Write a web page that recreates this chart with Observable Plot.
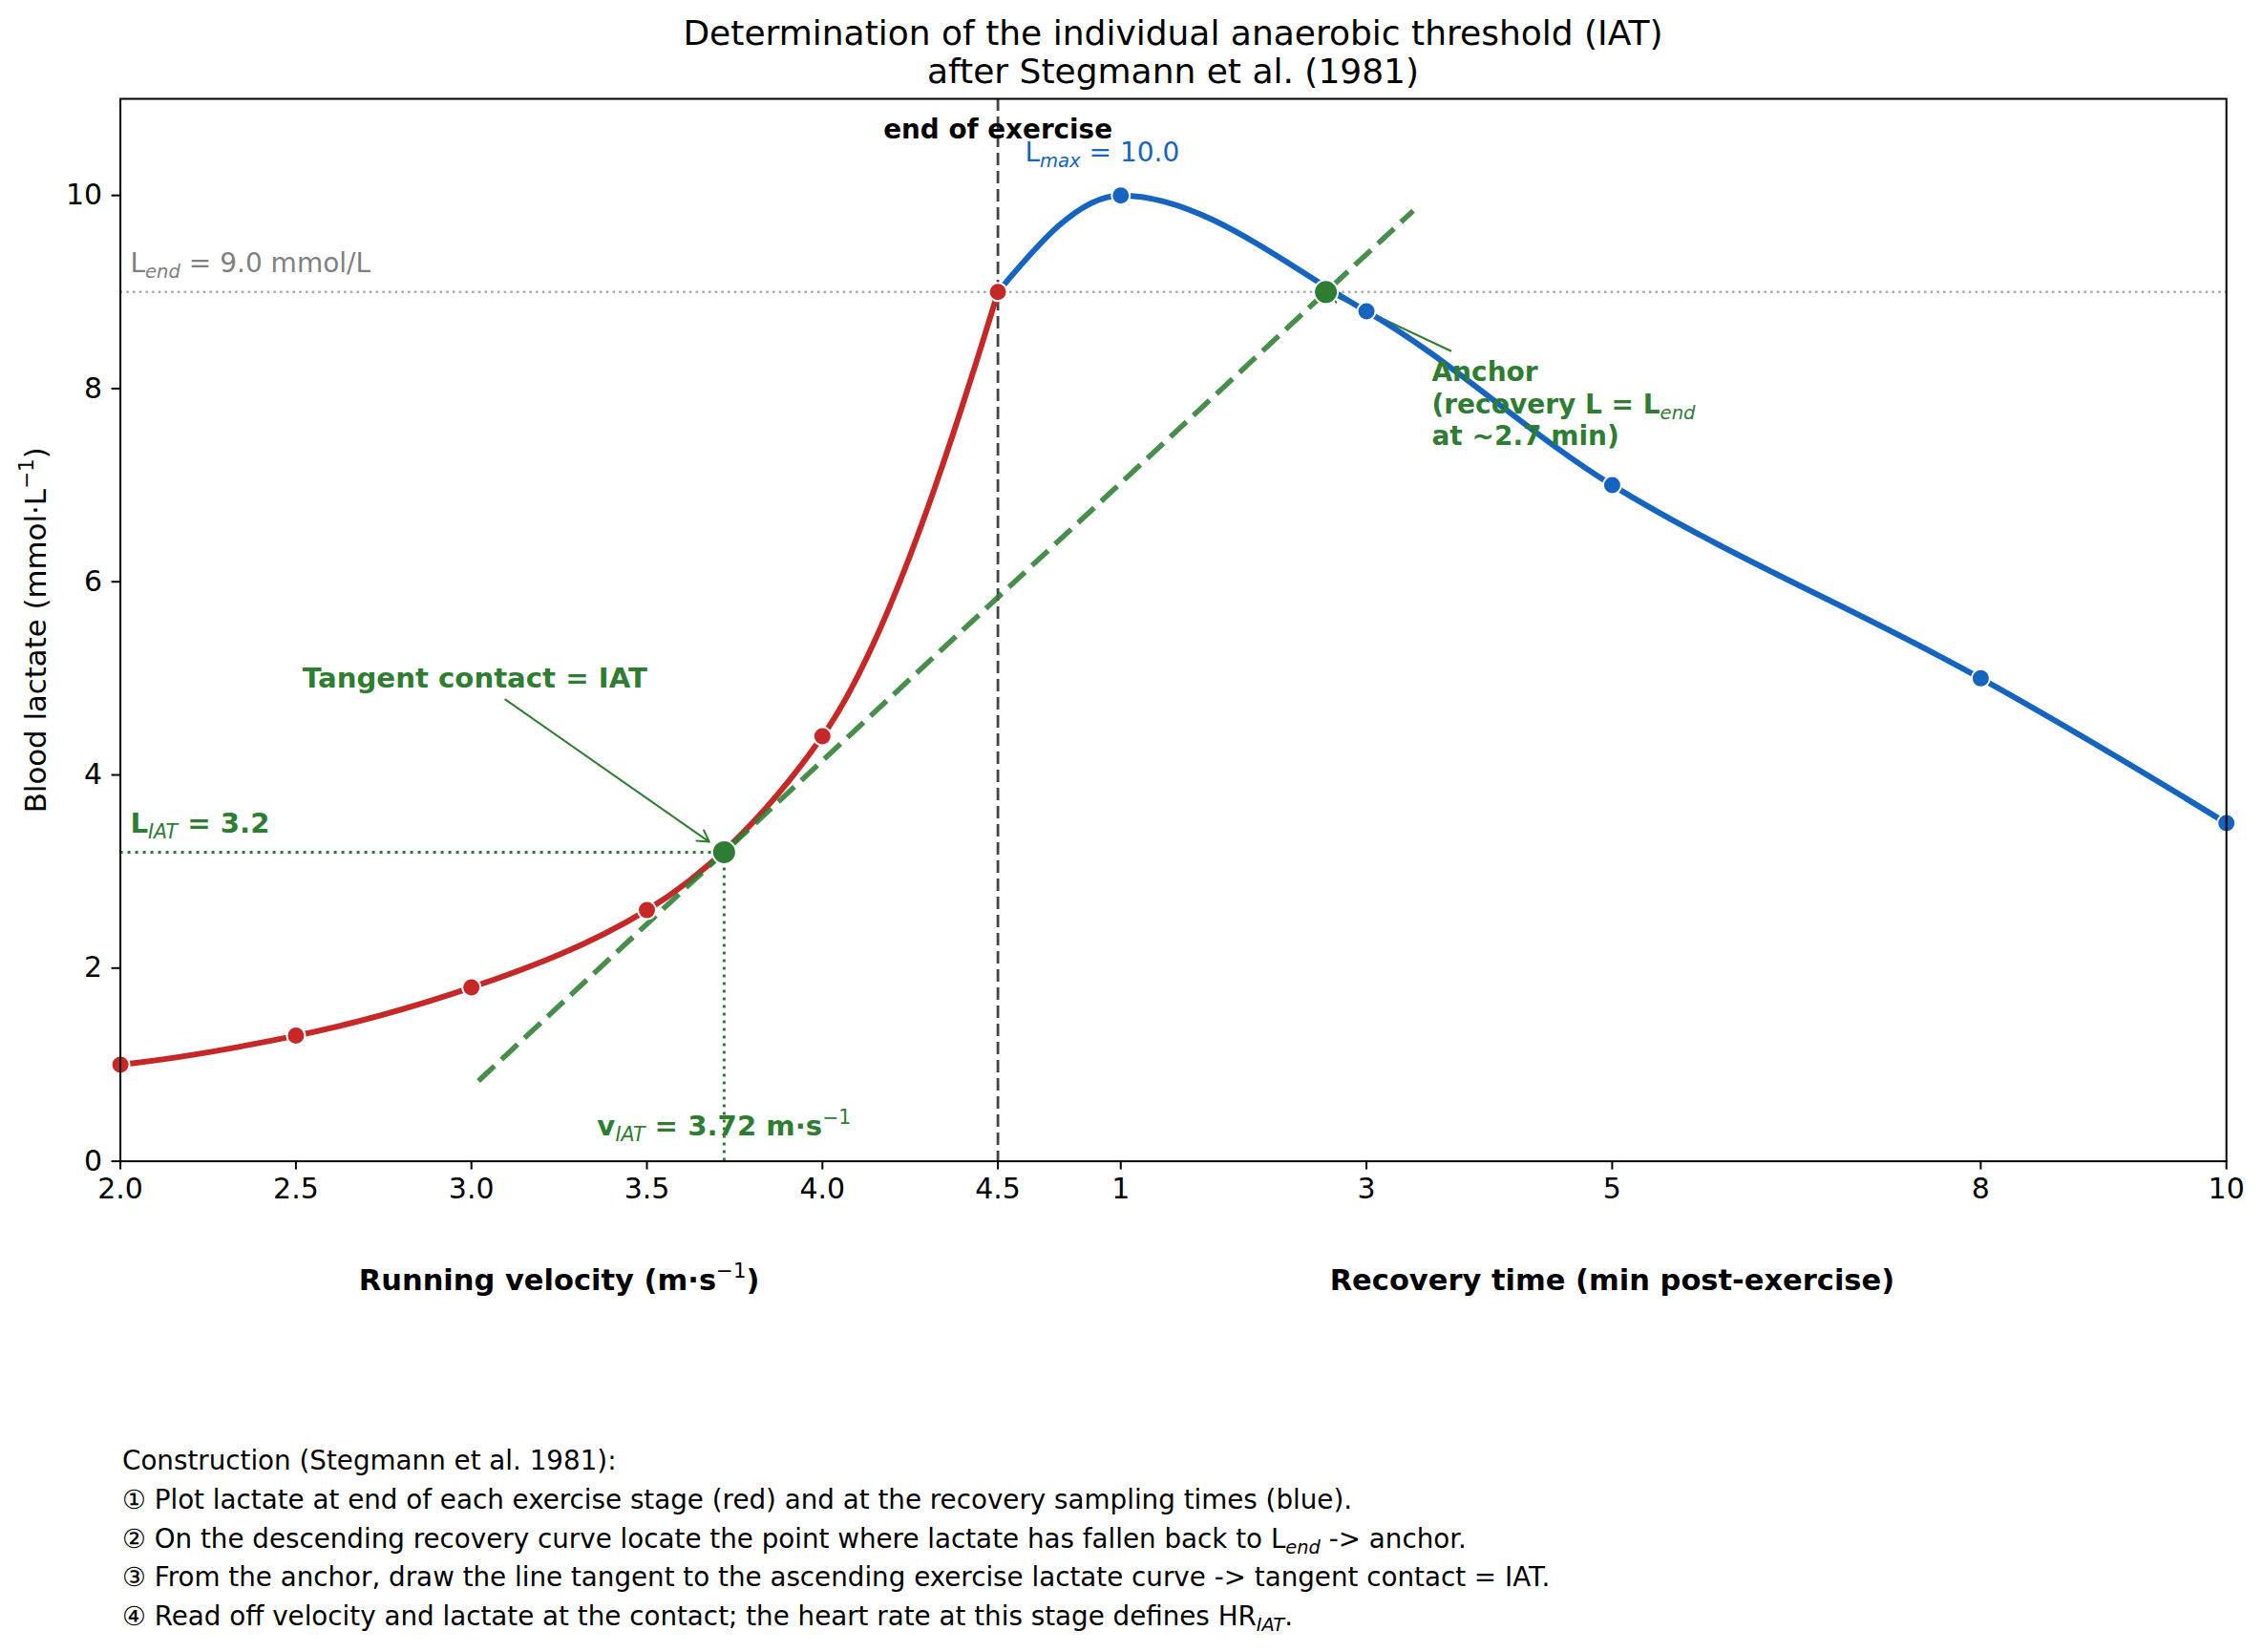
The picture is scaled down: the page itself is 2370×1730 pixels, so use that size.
<!DOCTYPE html>
<html>
<head>
<meta charset="utf-8">
<script src="https://cdn.jsdelivr.net/npm/d3@7"></script>
<script src="https://cdn.jsdelivr.net/npm/@observablehq/plot@0.6"></script>
<style>
  html, body { margin: 0; padding: 0; background: #fff; }
  body { font-family: "DejaVu Sans", sans-serif; color: #000; }
  #wrap { position: relative; width: 2370px; height: 1730px; overflow: hidden; }
  #title { position: absolute; left: 126px; width: 2205px; top: 15px; text-align: center;
           font-size: 36px; line-height: 39.5px; }
  #chart { position: absolute; left: 0; top: 95px; }
  #caption { position: absolute; left: 128px; top: 1510px; font-size: 27.75px; line-height: 40.8px; white-space: nowrap; }
  #caption sub { font-style: italic; font-size: 70%; vertical-align: -0.3em; line-height: 0; }
</style>
</head>
<body>
<div id="wrap">
  <div id="title"></div>
  <div id="chart"></div>
  <div id="caption"></div>
</div>
<script>
// ---------------- data ----------------
const velocity        = [2.0, 2.5, 3.0, 3.5, 4.0, 4.5];          // m/s, end of each stage
const lactateExercise = [1.0, 1.3, 1.8, 2.6, 4.4, 9.0];          // mmol/L
const recoveryTime    = [0, 1, 3, 5, 8, 10];                      // min post-exercise
const lactateRecovery = [9.0, 10.0, 8.8, 7.0, 5.0, 3.5];          // mmol/L

const velocityTicks      = [2.0, 2.5, 3.0, 3.5, 4.0, 4.5];
const velocityTickLabels = ["2.0", "2.5", "3.0", "3.5", "4.0", "4.5"];
const recoveryTicks      = [1, 3, 5, 8, 10];
const recoveryTickLabels = ["1", "3", "5", "8", "10"];
const lactateTicks       = [0, 2, 4, 6, 8, 10];

const lactateEnd    = 9.0;
const iatVelocity   = 3.72;
const iatLactate    = 3.2;
const anchorTime    = 2.67;   // min
const anchorLactate = 9.0;
const tangentFromVelocity = 3.02; // where the drawn tangent starts
const tangentToTime       = 3.38; // where the drawn tangent ends (min)

const titleLines = ["Determination of the individual anaerobic threshold (IAT)", "after Stegmann et al. (1981)"];
const yLabel = "Blood lactate (mmol·L^{−1})";
const xLabels = ["Running velocity (m·s^{−1})", "Recovery time (min post-exercise)"];
const labelEndExercise = "end of exercise";
const labelLmax = "L_{max} = 10.0";
const labelLend = "L_{end} = 9.0 mmol/L";
const labelTangent = "Tangent contact = IAT";
const labelLiat = "L_{IAT} = 3.2";
const labelViat = "v_{IAT} = 3.72 m·s^{−1}";
const labelAnchor = "Anchor\n(recovery L = L_{end}\nat ~2.7 min)";
const captionLines = [
  "Construction (Stegmann et al. 1981):",
  "① Plot lactate at end of each exercise stage (red) and at the recovery sampling times (blue).",
  "② On the descending recovery curve locate the point where lactate has fallen back to L_{end} -> anchor.",
  "③ From the anchor, draw the line tangent to the ascending exercise lactate curve -> tangent contact = IAT.",
  "④ Read off velocity and lactate at the contact; the heart rate at this stage defines HR_{IAT}."
];

// ---------------- composite x axis: velocity, then recovery minutes ----------------
const exerciseEnd = 4.5;          // velocity where exercise ends
const unitsPerMinute = 0.35;      // recovery minutes -> axis units
const rx = t => exerciseEnd + t * unitsPerMinute;

const exercise = velocity.map((v, i) => ({x: v, L: lactateExercise[i]}));
const recovery = recoveryTime.map((t, i) => ({t, x: rx(t), L: lactateRecovery[i]}));
const anchorX = rx(anchorTime);
const slope = (anchorLactate - iatLactate) / (anchorX - iatVelocity);
const tangentLine = [tangentFromVelocity, rx(tangentToTime)].map(x => ({x, L: iatLactate + slope * (x - iatVelocity)}));

const tickValues = [...velocityTicks, ...recoveryTicks.map(rx)];
const tickText = new Map(tickValues.map((v, i) => [v, [...velocityTickLabels, ...recoveryTickLabels][i]]));

// PCHIP (Fritsch–Butland) curve, like scipy's PchipInterpolator
function edgeSlope(h0, h1, m0, m1) {
  let d = ((2 * h0 + h1) * m0 - h0 * m1) / (h0 + h1);
  if (Math.sign(d) !== Math.sign(m0)) d = 0;
  else if (Math.sign(m0) !== Math.sign(m1) && Math.abs(d) > Math.abs(3 * m0)) d = 3 * m0;
  return d;
}
function Pchip(context) { this._context = context; }
Pchip.prototype = {
  areaStart() { this._line = 0; },
  areaEnd() { this._line = NaN; },
  lineStart() { this._xs = []; this._ys = []; },
  point(x, y) { this._xs.push(+x); this._ys.push(+y); },
  lineEnd() {
    const xs = this._xs, ys = this._ys, n = xs.length, c = this._context;
    if (n) {
      if (this._line) c.lineTo(xs[0], ys[0]); else c.moveTo(xs[0], ys[0]);
      if (n === 2) c.lineTo(xs[1], ys[1]);
      else if (n > 2) {
        const h = [], s = [];
        for (let i = 0; i < n - 1; i++) { h[i] = xs[i + 1] - xs[i]; s[i] = (ys[i + 1] - ys[i]) / h[i]; }
        const m = new Array(n);
        for (let i = 1; i < n - 1; i++) {
          if (s[i - 1] * s[i] <= 0) m[i] = 0;
          else { const w1 = 2 * h[i] + h[i - 1], w2 = h[i] + 2 * h[i - 1]; m[i] = (w1 + w2) / (w1 / s[i - 1] + w2 / s[i]); }
        }
        m[0] = edgeSlope(h[0], h[1], s[0], s[1]);
        m[n - 1] = edgeSlope(h[n - 2], h[n - 3], s[n - 2], s[n - 3]);
        for (let i = 0; i < n - 1; i++) {
          const dx = h[i] / 3;
          c.bezierCurveTo(xs[i] + dx, ys[i] + dx * m[i], xs[i + 1] - dx, ys[i + 1] - dx * m[i + 1], xs[i + 1], ys[i + 1]);
        }
      }
    }
    if (this._line || (this._line !== 0 && n === 1)) c.closePath();
    this._line = 1 - this._line;
  }
};
const curvePchip = context => new Pchip(context);

// ---------------- colours ----------------
const RED = "#c62828", BLUE = "#1565c0", GREEN = "#2e7d32";

const chart = Plot.plot({
  width: 2370,
  height: 1300,
  marginTop: 8,
  marginBottom: 179.4,
  marginLeft: 125.6,
  marginRight: 38.8,
  x: {domain: [2, 8]},
  y: {domain: [0, 11]},
  style: {fontFamily: "'DejaVu Sans', sans-serif", fontSize: "30px", color: "#000", background: "#fff", overflow: "visible"},
  marks: [
    // reference lines
    Plot.ruleY([lactateEnd], {stroke: "#aaa", strokeWidth: 2.5, strokeDasharray: "2.5,4.2"}),
    Plot.ruleX([exerciseEnd], {stroke: "#444", strokeWidth: 2.8, strokeDasharray: "13,6"}),
    Plot.ruleY([iatLactate], {x1: 2, x2: iatVelocity, stroke: GREEN, strokeWidth: 3, strokeDasharray: "3,5"}),
    Plot.ruleX([iatVelocity], {y1: 0, y2: iatLactate, stroke: GREEN, strokeWidth: 3, strokeDasharray: "3,5"}),
    // annotation arrows (beneath the curves)
    Plot.arrow([0], {x1: 3.097, y1: 4.78, x2: iatVelocity, y2: iatLactate, insetEnd: 19, stroke: GREEN, strokeWidth: 2, headLength: 10}),
    Plot.arrow([0], {x1: 5.79, y1: 8.39, x2: anchorX, y2: anchorLactate, insetEnd: 5, stroke: GREEN, strokeWidth: 2, headLength: 8}),
    // curves
    Plot.line(exercise, {x: "x", y: "L", stroke: RED, strokeWidth: 6, curve: curvePchip}),
    Plot.line(recovery, {x: "x", y: "L", stroke: BLUE, strokeWidth: 6, curve: curvePchip}),
    // tangent
    Plot.line(tangentLine, {x: "x", y: "L", stroke: GREEN, strokeOpacity: 0.88, strokeWidth: 5.5, strokeDasharray: "23,10", strokeLinecap: "butt"}),
    // points
    Plot.dot(recovery.filter(d => d.t > 0), {x: "x", y: "L", r: 9.5, fill: BLUE, stroke: "#fff", strokeWidth: 2}),
    Plot.dot(exercise, {x: "x", y: "L", r: 9.5, fill: RED, stroke: "#fff", strokeWidth: 2}),
    Plot.dot([{x: iatVelocity, L: iatLactate}, {x: anchorX, L: anchorLactate}], {x: "x", y: "L", r: 12.5, fill: GREEN, stroke: "#fff", strokeWidth: 2}),
    // annotation texts
    Plot.text([labelEndExercise], {x: exerciseEnd, y: 10.68, text: d => d, fontSize: 27.8, fontWeight: "bold", fill: "#000", textAnchor: "middle", lineAnchor: "middle"}),
    Plot.text([labelLmax], {x: 4.577, y: 10.44, text: d => d, fontSize: 28, fill: BLUE, textAnchor: "start", lineAnchor: "middle"}),
    Plot.text([labelLend], {x: 2.028, y: 9.29, text: d => d, fontSize: 28, fill: "#808080", textAnchor: "start", lineAnchor: "middle"}),
    Plot.text([labelTangent], {x: 3.01, y: 5.0, text: d => d, fontSize: 29.2, fontWeight: "bold", fill: GREEN, textAnchor: "middle", lineAnchor: "middle"}),
    Plot.text([labelLiat], {x: 2.028, y: 3.49, text: d => d, fontSize: 29.2, fontWeight: "bold", fill: GREEN, textAnchor: "start", lineAnchor: "middle"}),
    Plot.text([labelViat], {x: iatVelocity, y: 0.36, text: d => d, fontSize: 29.2, fontWeight: "bold", fill: GREEN, textAnchor: "middle", lineAnchor: "middle"}),
    Plot.text([labelAnchor], {x: 5.736, y: 7.85, text: d => d, fontSize: 28, fontWeight: "bold", fill: GREEN, textAnchor: "start", lineAnchor: "middle", lineHeight: 1.2}),
    // axis titles
    Plot.text([yLabel], {frameAnchor: "left", dx: -88, rotate: -90, text: d => d, fontSize: 30.8, fill: "#000", textAnchor: "middle", lineAnchor: "middle"}),
    Plot.text([xLabels[0]], {x: (velocityTicks[0] + exerciseEnd) / 2, frameAnchor: "bottom", dy: 125.4, text: d => d, fontSize: 30.5, fontWeight: "bold", fill: "#000", textAnchor: "middle", lineAnchor: "middle"}),
    Plot.text([xLabels[1]], {x: (exerciseEnd + rx(recoveryTicks[recoveryTicks.length - 1])) / 2, frameAnchor: "bottom", dy: 125.4, text: d => d, fontSize: 30.5, fontWeight: "bold", fill: "#000", textAnchor: "middle", lineAnchor: "middle"}),
    // axes + frame
    Plot.axisX({ticks: tickValues, tickFormat: d => tickText.get(d), tickSize: 9, tickPadding: 9, strokeWidth: 2, stroke: "#000", label: null}),
    Plot.axisY({ticks: lactateTicks, tickSize: 9, tickPadding: 10, strokeWidth: 2, stroke: "#000", label: null}),
    Plot.frame({stroke: "#000", strokeWidth: 2})
  ]
});

document.getElementById("chart").appendChild(chart);

// ---------- sub/superscript markup: "_{...}" and "^{...}" ----------
const SVGNS = "http://www.w3.org/2000/svg";
function richify(el) {
  if (el.children.length) return;
  const s = el.textContent;
  if (!/[_^]\{/.test(s)) return;
  const fs = parseFloat(getComputedStyle(el).fontSize) || 28;
  el.textContent = "";
  for (const p of s.split(/([_^]\{[^}]*\})/)) {
    if (!p) continue;
    const ts = document.createElementNS(SVGNS, "tspan");
    if (p.startsWith("_{")) {
      ts.textContent = p.slice(2, -1);
      ts.setAttribute("font-size", (fs * 0.7) + "px");
      ts.setAttribute("font-style", "italic");
      ts.setAttribute("font-weight", "normal");
      ts.setAttribute("baseline-shift", (-0.2 * fs) + "px");
    } else if (p.startsWith("^{")) {
      ts.textContent = p.slice(2, -1);
      ts.setAttribute("font-size", (fs * 0.7) + "px");
      ts.setAttribute("font-weight", "normal");
      ts.setAttribute("baseline-shift", (0.42 * fs) + "px");
    } else {
      ts.textContent = p;
    }
    el.appendChild(ts);
  }
}
chart.querySelectorAll("text").forEach(t => {
  const spans = t.querySelectorAll("tspan");
  if (spans.length) spans.forEach(richify); else richify(t);
});

// ---------- title and caption (HTML) ----------
const titleEl = document.getElementById("title");
titleLines.forEach((line, i) => {
  if (i) titleEl.appendChild(document.createElement("br"));
  titleEl.appendChild(document.createTextNode(line));
});
const capEl = document.getElementById("caption");
captionLines.forEach(line => {
  const div = document.createElement("div");
  for (const p of line.split(/(_\{[^}]*\})/)) {
    if (!p) continue;
    if (p.startsWith("_{")) {
      const sub = document.createElement("sub");
      sub.textContent = p.slice(2, -1);
      div.appendChild(sub);
    } else div.appendChild(document.createTextNode(p));
  }
  capEl.appendChild(div);
});
</script>
</body>
</html>
